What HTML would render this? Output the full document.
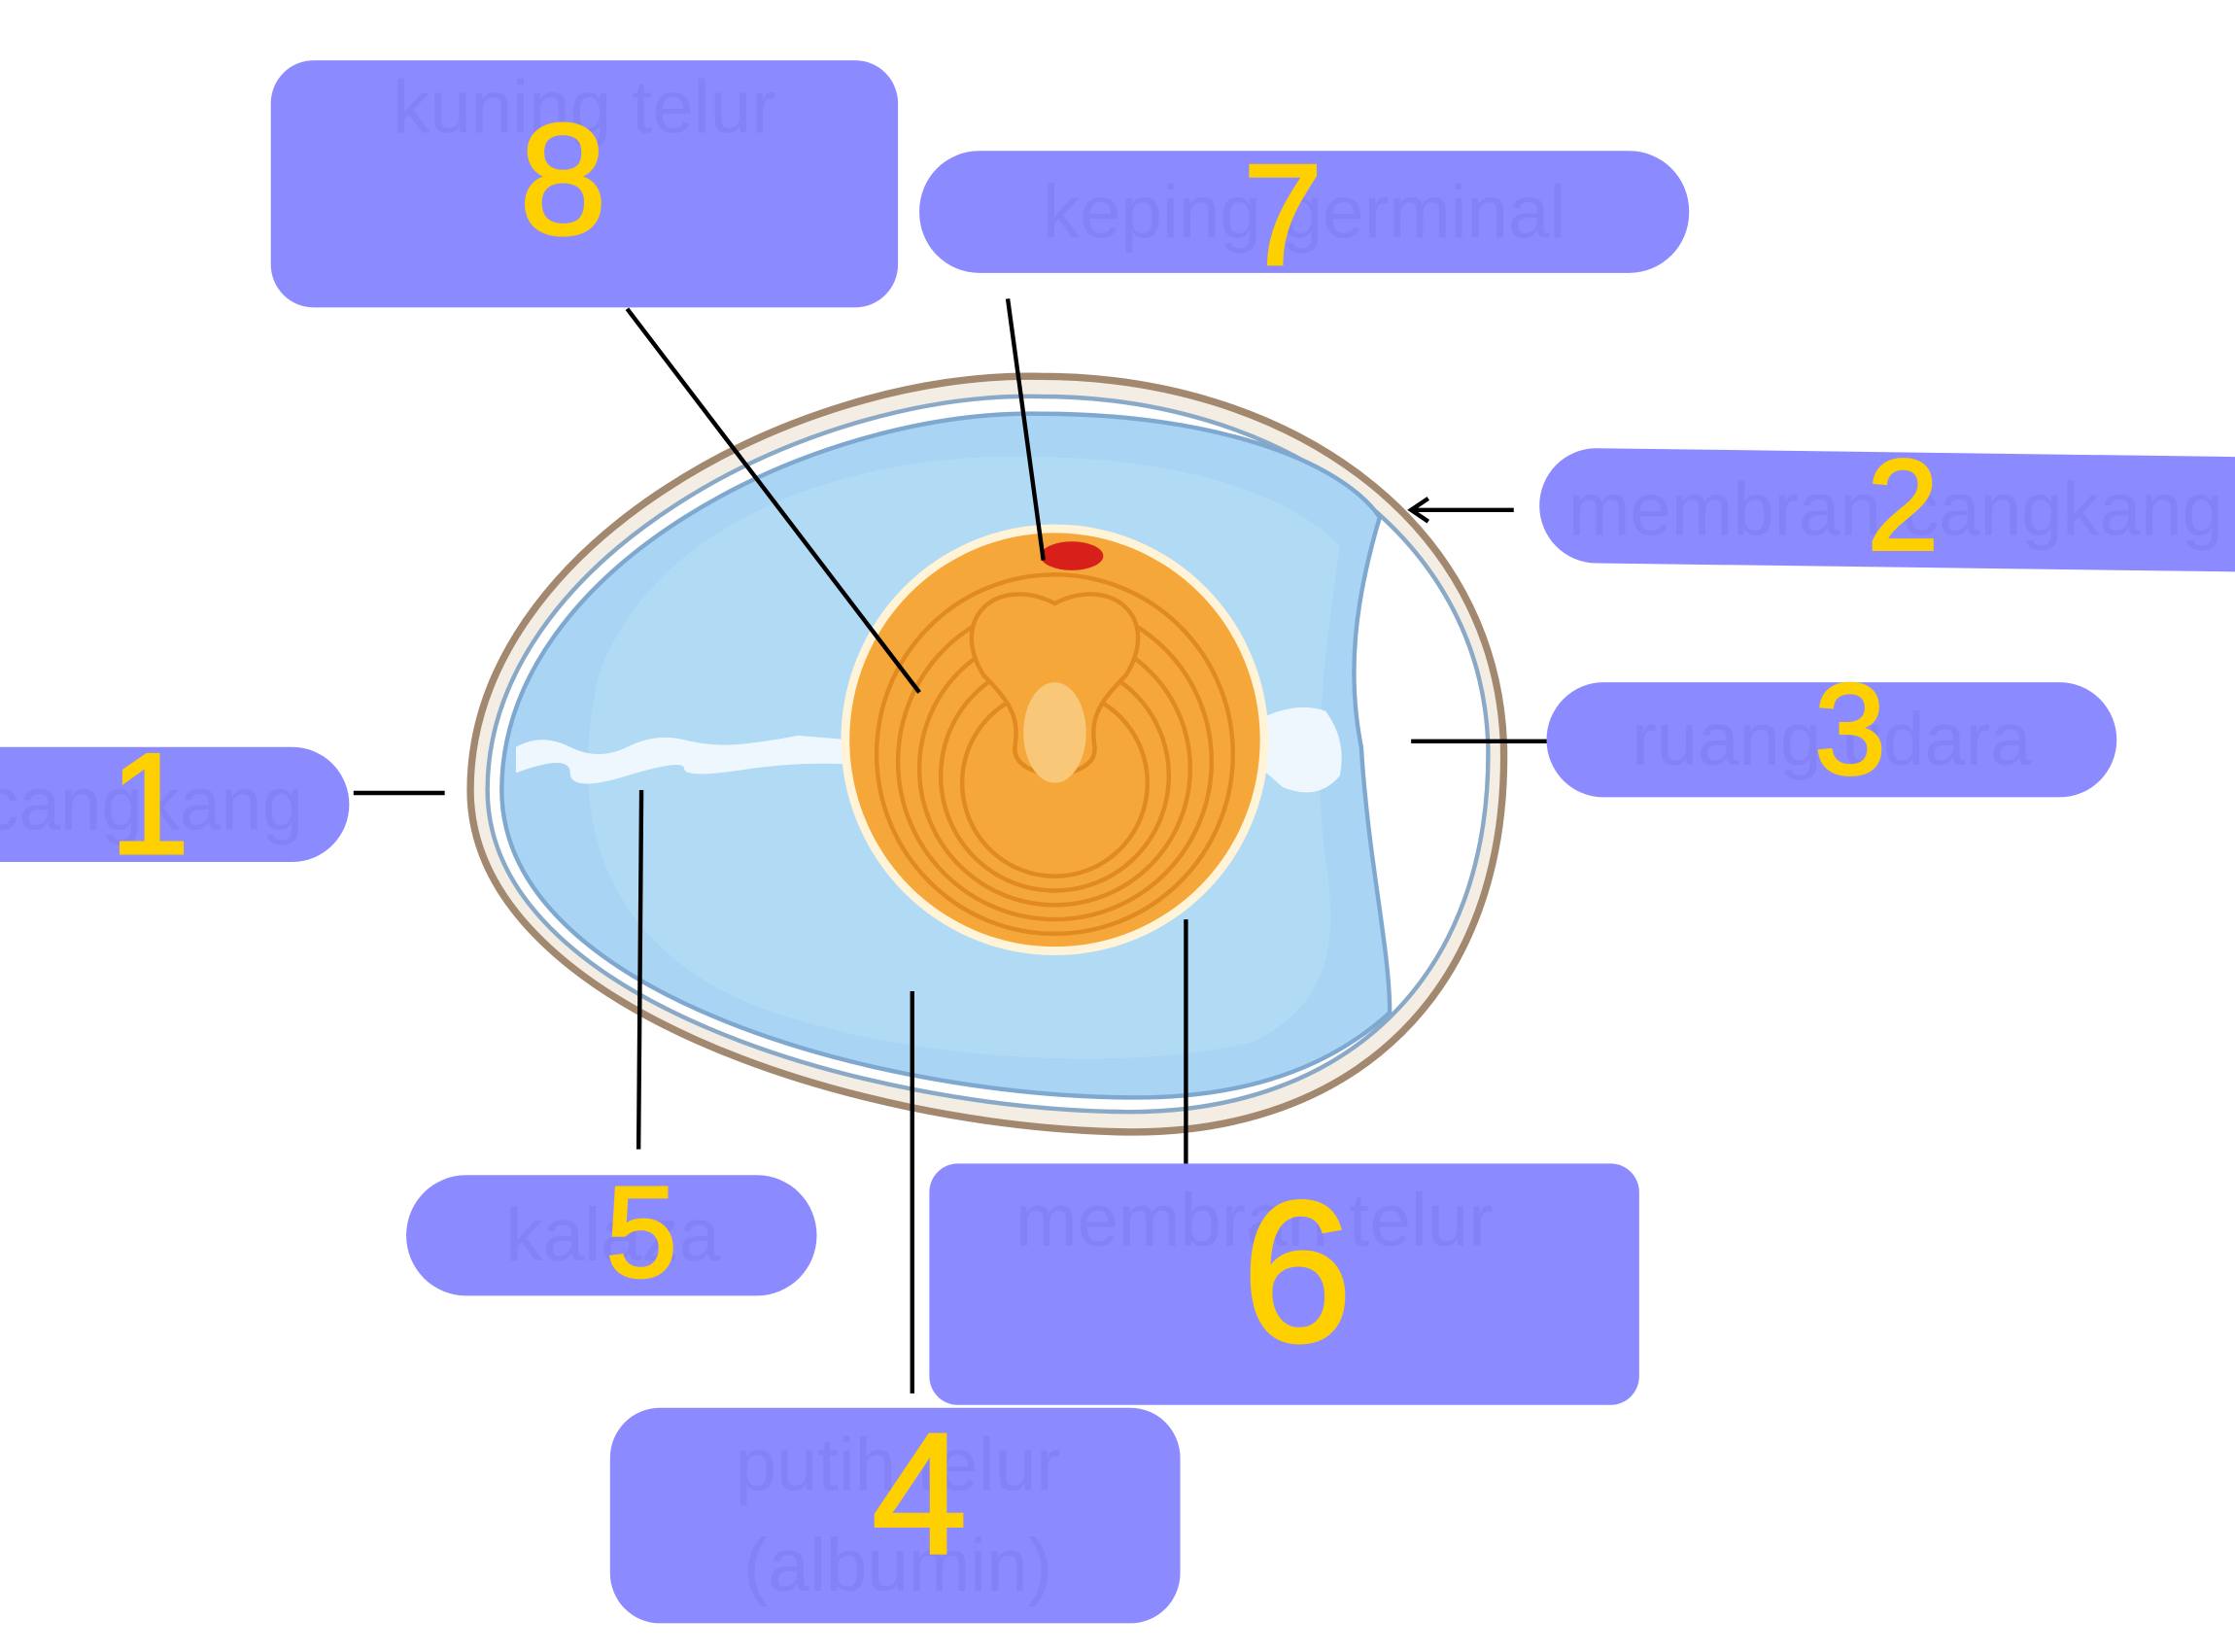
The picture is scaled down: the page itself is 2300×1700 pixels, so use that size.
<!DOCTYPE html>
<html><head><meta charset="utf-8"><style>
html,body{margin:0;padding:0;background:#fff;}
svg{display:block;}
.n{font-family:"Liberation Sans",sans-serif;fill:#ffd000;font-weight:normal;text-anchor:middle;dominant-baseline:central;stroke:#ffd000;stroke-width:2;}
.h{font-family:"Liberation Sans",sans-serif;fill:#8482f6;font-size:52px;text-anchor:middle;dominant-baseline:central;}
</style></head><body>
<svg width="2300" height="1700" viewBox="0 0 1568 1150" preserveAspectRatio="none" xmlns="http://www.w3.org/2000/svg">
<rect width="1568" height="1150" fill="#fff"/>
<path d="M330 550 C330 380 560 258 730 262 C900 262 1050 360 1055 520 C1058 690 950 790 790 788 C600 785 330 700 330 550 Z" fill="#f3ede4" stroke="#a38870" stroke-width="5"/>
<path d="M342 550 C342 390 565 272 730 276 C895 276 1040 370 1044 520 C1046 680 945 775 790 774 C605 772 342 695 342 550 Z" fill="#fff" stroke="#8aa9c7" stroke-width="3"/>
<path d="M352 550 C352 395 570 285 730 288 C850 288 940 320 968 360 C950 420 945 470 955 520 C960 600 975 660 975 705 C925 750 860 765 790 764 C610 762 352 690 352 550 Z" fill="#a9d4f3" stroke="#7fa8d0" stroke-width="3"/>
<path d="M420 470 C460 360 600 315 720 318 C820 318 900 340 940 380 C930 450 920 520 930 600 C940 660 930 700 880 725 C800 745 660 740 560 710 C450 680 390 600 420 470 Z" fill="#b7ddf7" opacity="0.6"/>
<path d="M362 520 Q380 510 400 520 T440 520 T480 515 T520 518 T560 512 L595 515 L595 532 Q560 530 520 536 T480 535 T440 540 T400 538 T362 538 Z" fill="#eef7fd"/>
<path d="M885 500 Q910 488 930 495 Q945 515 940 540 Q925 558 900 548 L885 535 Z" fill="#eef7fd"/>
<circle cx="740" cy="515" r="150" fill="#fff3d8"/>
<circle cx="740" cy="515" r="144" fill="#f5a73a"/>
<g fill="none" stroke="#e08a20" stroke-width="3">
<circle cx="740" cy="525" r="125"/><circle cx="740" cy="530" r="110"/><circle cx="740" cy="535" r="95"/><circle cx="740" cy="540" r="80"/><circle cx="740" cy="545" r="65"/>
</g>
<path d="M740 420 C700 400 665 430 690 470 C710 490 715 500 712 520 C710 545 770 545 768 520 C765 500 770 490 790 470 C815 430 780 400 740 420 Z" fill="#f5a73a" stroke="#e08a20" stroke-width="3"/>
<ellipse cx="740" cy="510" rx="22" ry="35" fill="#f8c878"/>
<ellipse cx="752" cy="387" rx="22" ry="10" fill="#d8201a"/>
<g stroke="#000" stroke-width="3" fill="none">
<line x1="440" y1="215" x2="645" y2="482"/>
<line x1="707" y1="208" x2="732" y2="390"/>
<line x1="1062" y1="355" x2="990" y2="355"/>
<polyline points="1002,347 990,355 1002,363"/>
<line x1="990" y1="516" x2="1088" y2="516"/>
<line x1="248" y1="552" x2="312" y2="552"/>
<line x1="450" y1="550" x2="448" y2="800"/>
<line x1="640" y1="690" x2="640" y2="970"/>
<line x1="832" y1="640" x2="832" y2="812"/>
</g>
<g fill="#8c8aff">
<rect x="190" y="42" width="440" height="172" rx="30"/>
<rect x="645" y="105" width="540" height="85" rx="42"/>
<path d="M1120 312 L1568 318 L1568 398 L1120 392 A40 40 0 0 1 1120 312 Z"/>
<rect x="1085" y="475" width="400" height="80" rx="40"/>
<path d="M0 520 L205 520 A40 40 0 0 1 205 600 L0 600 Z"/>
<rect x="285" y="818" width="288" height="84" rx="42"/>
<rect x="652" y="810" width="498" height="168" rx="20"/>
<rect x="428" y="980" width="400" height="150" rx="35"/>
</g>
<text class="h" x="410" y="75">kuning telur</text>
<text class="h" x="915" y="148">keping germinal</text>
<text class="h" x="1330" y="355">membran cangkang</text>
<text class="h" x="1285" y="515">ruang udara</text>
<text class="h" x="100" y="560">cangkang</text>
<text class="h" x="430" y="860">kalaza</text>
<text class="h" x="880" y="850">membran telur</text>
<text class="h" x="630" y="1020">putih telur</text>
<text class="h" x="630" y="1090">(albumin)</text>
<text class="n" x="395" y="125" font-size="110">8</text>
<text class="n" x="900" y="150" font-size="100">7</text>
<text class="n" x="1335" y="352" font-size="90">2</text>
<text class="n" x="1298" y="508" font-size="90">3</text>
<text class="n" x="105" y="560" font-size="100">1</text>
<text class="n" x="450" y="858" font-size="90">5</text>
<text class="n" x="910" y="885" font-size="140">6</text>
<text class="n" x="645" y="1040" font-size="120">4</text>
</svg>
</body></html>
